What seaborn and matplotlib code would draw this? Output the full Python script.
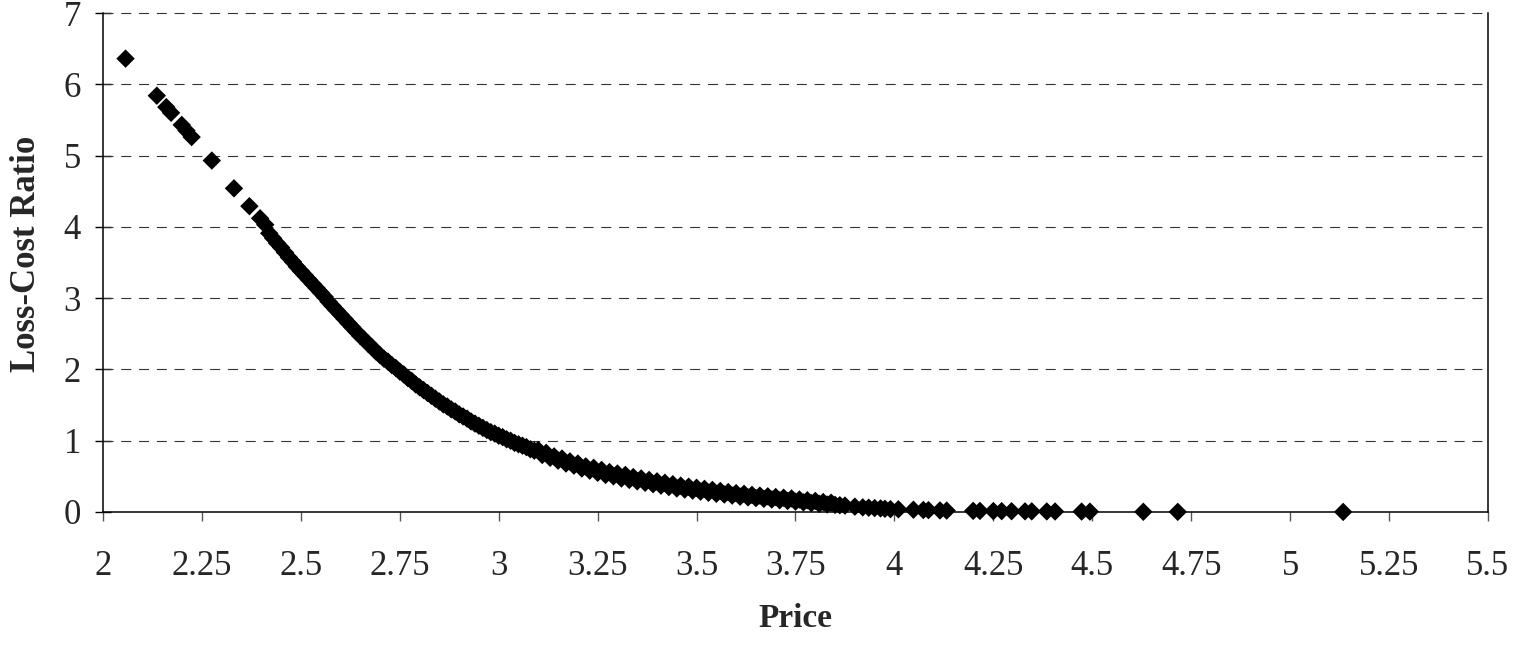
import matplotlib
matplotlib.use('Agg')
import matplotlib.pyplot as plt
import pandas as pd
import seaborn as sns
from matplotlib.ticker import FuncFormatter

# isolated points at the high end of the curve
head_price = [2.057, 2.136, 2.160, 2.172, 2.199, 2.211, 2.224, 2.275, 2.331, 2.370, 2.397, 2.410]
head_ratio = [6.36, 5.84, 5.68, 5.60, 5.43, 5.35, 5.26, 4.93, 4.54, 4.29, 4.12, 4.03]

# dense band, every 0.01
band_price = [
    2.42, 2.43, 2.44, 2.45, 2.46, 2.47, 2.48, 2.49, 2.50, 2.51, 2.52, 2.53, 2.54, 2.55, 2.56, 2.57,
    2.58, 2.59, 2.60, 2.61, 2.62, 2.63, 2.64, 2.65, 2.66, 2.67, 2.68, 2.69, 2.70, 2.71, 2.72, 2.73,
    2.74, 2.75, 2.76, 2.77, 2.78, 2.79, 2.80, 2.81, 2.82, 2.83, 2.84, 2.85, 2.86, 2.87, 2.88, 2.89,
    2.90, 2.91, 2.92, 2.93, 2.94, 2.95, 2.96, 2.97, 2.98, 2.99, 3.00, 3.01, 3.02, 3.03, 3.04, 3.05,
    3.06, 3.07, 3.08, 3.09, 3.10, 3.11, 3.12, 3.13, 3.14, 3.15, 3.16, 3.17, 3.18, 3.19, 3.20, 3.21,
    3.22, 3.23, 3.24, 3.25, 3.26, 3.27, 3.28, 3.29, 3.30, 3.31, 3.32, 3.33, 3.34, 3.35, 3.36, 3.37,
    3.38, 3.39, 3.40, 3.41, 3.42, 3.43, 3.44, 3.45, 3.46, 3.47, 3.48, 3.49, 3.50, 3.51, 3.52, 3.53,
    3.54, 3.55, 3.56, 3.57, 3.58, 3.59, 3.60, 3.61, 3.62, 3.63, 3.64, 3.65, 3.66, 3.67, 3.68, 3.69,
    3.70, 3.71, 3.72, 3.73, 3.74, 3.75, 3.76, 3.77, 3.78, 3.79, 3.80, 3.81, 3.82, 3.83, 3.84, 3.85,
]
band_ratio = [
    3.91, 3.84, 3.77, 3.71, 3.64, 3.57, 3.51, 3.44, 3.38, 3.32, 3.26, 3.20, 3.14, 3.08, 3.02, 2.95,
    2.89, 2.83, 2.77, 2.71, 2.65, 2.59, 2.53, 2.47, 2.42, 2.36, 2.31, 2.25, 2.20, 2.15, 2.11, 2.06,
    2.02, 1.97, 1.93, 1.88, 1.84, 1.79, 1.75, 1.71, 1.67, 1.63, 1.59, 1.55, 1.51, 1.48, 1.44, 1.41,
    1.37, 1.34, 1.31, 1.27, 1.24, 1.21, 1.18, 1.15, 1.12, 1.10, 1.07, 1.05, 1.02, 1.00, 0.97, 0.95,
    0.93, 0.91, 0.88, 0.86, 0.87, 0.80, 0.83, 0.76, 0.78, 0.72, 0.75, 0.68, 0.71, 0.65, 0.68, 0.61,
    0.64, 0.58, 0.62, 0.55, 0.59, 0.52, 0.56, 0.50, 0.54, 0.47, 0.52, 0.45, 0.49, 0.43, 0.47, 0.41,
    0.45, 0.39, 0.43, 0.37, 0.41, 0.35, 0.39, 0.33, 0.37, 0.315, 0.355, 0.30, 0.34, 0.285, 0.325, 0.27,
    0.31, 0.255, 0.295, 0.245, 0.28, 0.23, 0.265, 0.215, 0.255, 0.205, 0.24, 0.195, 0.23, 0.185, 0.22, 0.175,
    0.21, 0.165, 0.20, 0.155, 0.19, 0.145, 0.175, 0.135, 0.165, 0.125, 0.155, 0.115, 0.14, 0.105, 0.13, 0.10,
]

# sparse points running out along the axis
tail_price = [3.862, 3.875, 3.900, 3.920, 3.935, 3.950, 3.965, 3.976, 3.990, 4.010, 4.048, 4.073, 4.086,
              4.115, 4.132, 4.199, 4.216, 4.250, 4.271, 4.296, 4.330, 4.347, 4.385, 4.406, 4.473, 4.494,
              4.629, 4.716, 5.134]
tail_ratio = [0.095, 0.09, 0.075, 0.065, 0.06, 0.055, 0.05, 0.045, 0.04, 0.038, 0.032, 0.028, 0.026,
              0.022, 0.02, 0.016, 0.015, 0.013, 0.012, 0.011, 0.009, 0.009, 0.008, 0.007, 0.006, 0.005,
              0.003, 0.002, 0.001]

x_ticks = [2, 2.25, 2.5, 2.75, 3, 3.25, 3.5, 3.75, 4, 4.25, 4.5, 4.75, 5, 5.25, 5.5]
y_ticks = [0, 1, 2, 3, 4, 5, 6, 7]


def build_frame():
    df = pd.DataFrame({
        'Price': head_price + band_price + tail_price,
        'Loss-Cost Ratio': head_ratio + band_ratio + tail_ratio,
    })
    return df


def draw(df):
    sns.set_style('white')
    plt.rcParams['font.family'] = ['Liberation Serif', 'DejaVu Serif']
    fig = plt.figure(figsize=(15.21, 6.53), dpi=100)
    ax = fig.add_axes([103 / 1521, 1 - 512 / 653, 1385 / 1521, 499 / 653])

    sns.scatterplot(data=df, x='Price', y='Loss-Cost Ratio', ax=ax, marker='D', s=88,
                    color='black', edgecolor='none', linewidth=0, clip_on=False, zorder=3)

    ax.set_xlim(2, 5.5)
    ax.set_ylim(0, 7)
    ax.set_xticks(x_ticks)
    ax.set_yticks(y_ticks)
    ax.xaxis.set_major_formatter(FuncFormatter(lambda v, p: '%g' % v))
    ax.yaxis.set_major_formatter(FuncFormatter(lambda v, p: '%g' % v))

    # dashed horizontal grid, top line included
    for y in y_ticks[1:]:
        ax.axhline(y, color='#333333', linewidth=0.8, linestyle=(0, (9, 7)), zorder=1, clip_on=False)

    ax.spines['top'].set_visible(False)
    for side in ['left', 'right', 'bottom']:
        ax.spines[side].set_color('black')
        ax.spines[side].set_linewidth(1.1)

    ax.tick_params(axis='x', direction='out', length=6.5, width=1, color='#555555',
                   labelsize=25, pad=21, bottom=True)
    ax.tick_params(axis='y', direction='inout', length=11.5, width=1, color='black',
                   labelsize=25, pad=10, left=True)

    ax.set_xlabel('Price', fontsize=24, fontweight='bold', labelpad=14)
    ax.set_ylabel('Loss-Cost Ratio', fontsize=25, fontweight='bold')
    ax.yaxis.set_label_coords(-0.043, 0.517)

    fig.savefig('out.png', dpi=100, facecolor='white')


draw(build_frame())
